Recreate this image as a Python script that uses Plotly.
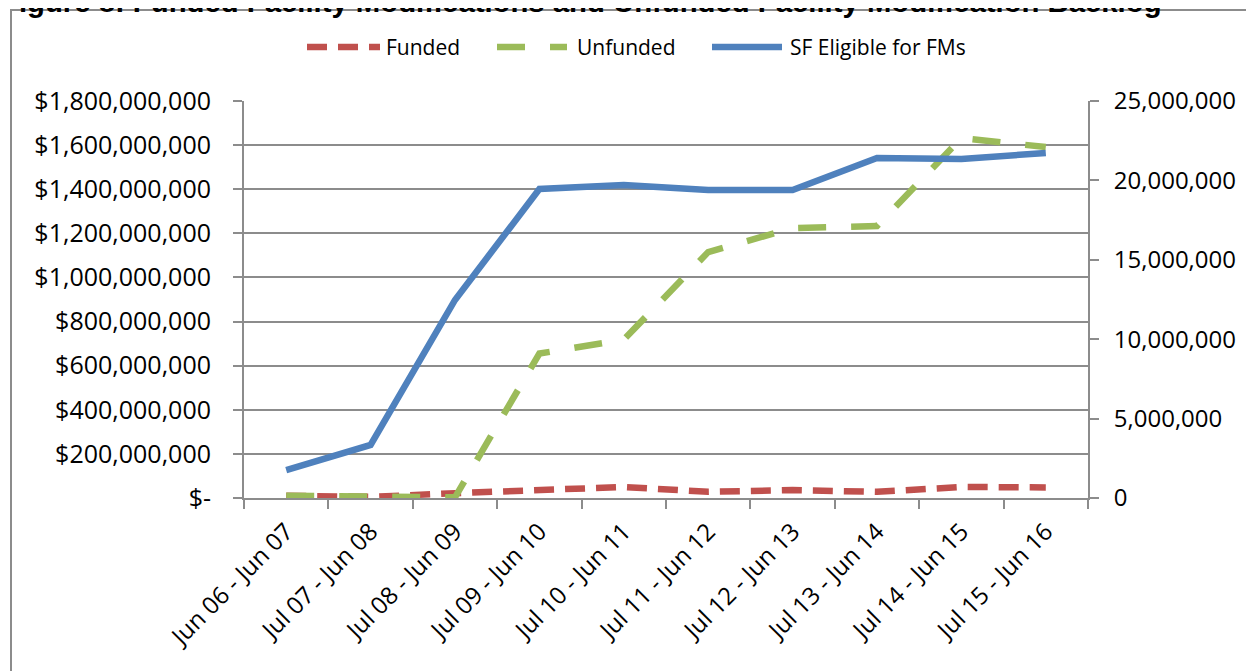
import plotly.graph_objects as go

categories = ["Jun 06 - Jun 07", "Jul 07 - Jun 08", "Jul 08 - Jun 09", "Jul 09 - Jun 10",
              "Jul 10 - Jun 11", "Jul 11 - Jun 12", "Jul 12 - Jun 13", "Jul 13 - Jun 14",
              "Jul 14 - Jun 15", "Jul 15 - Jun 16"]
funded = [10e6, 5e6, 22e6, 33e6, 50e6, 28e6, 36e6, 28e6, 50e6, 48e6]
unfunded = [10e6, 10e6, 3e6, 655e6, 718e6, 1115e6, 1224e6, 1233e6, 1632e6, 1591e6]
sf_eligible = [1.76e6, 3.34e6, 12.47e6, 19.46e6, 19.71e6, 19.40e6, 19.40e6, 21.41e6, 21.35e6, 21.73e6]

left_ticks = [0, 200e6, 400e6, 600e6, 800e6, 1000e6, 1200e6, 1400e6, 1600e6, 1800e6]
left_text = ["$-", "$200,000,000", "$400,000,000", "$600,000,000", "$800,000,000",
             "$1,000,000,000", "$1,200,000,000", "$1,400,000,000", "$1,600,000,000", "$1,800,000,000"]
right_ticks = [0, 5e6, 10e6, 15e6, 20e6, 25e6]
right_text = ["0", "5,000,000", "10,000,000", "15,000,000", "20,000,000", "25,000,000"]

series_names = ["Funded", "Unfunded", "SF Eligible for FMs"]
series_colors = ["#C0504D", "#9BBB59", "#4F81BD"]
series_dash = ["20px,11px", "28px,25px", "solid"]

title_text = "Figure 8: Funded Facility Modifications and Unfunded Facility Modification Backlog"

FONT = "Open Sans"
GRID = "#8c8c8c"

# figure geometry (page is offset by 8px body margin)
W, H = 1246, 663
ML, MT = 236, 93
PW, PH = 844, 397
MR, MB = W - ML - PW, H - MT - PH


def px_x(x):
    return (x - ML) / PW


def px_y(y):
    return (MT + PH - y) / PH


fig = go.Figure()
for name, vals, col, dash, ax in zip(series_names, [funded, unfunded, sf_eligible],
                                     series_colors, series_dash, ["y", "y", "y2"]):
    fig.add_trace(go.Scatter(x=categories, y=vals, name=name, mode="lines",
                             line=dict(color=col, width=6.5, dash=dash), yaxis=ax,
                             showlegend=False))

fig.update_layout(
    width=W, height=H,
    margin=dict(l=ML, r=MR, t=MT, b=MB, autoexpand=False),
    plot_bgcolor="white", paper_bgcolor="white",
    font=dict(family=FONT, color="black"),
    showlegend=False,
    xaxis=dict(type="category", showline=True, linecolor=GRID, linewidth=2,
               ticks="outside", ticklen=9, tickcolor=GRID, tickwidth=2,
               tickson="boundaries", tickangle=-45, showgrid=False,
               tickfont=dict(size=24, family=FONT), ticklabelstandoff=8, range=[-0.5, 9.5]),
    yaxis=dict(range=[0, 1.8e9], tickvals=left_ticks, ticktext=left_text,
               showgrid=True, gridcolor=GRID, gridwidth=2,
               showline=True, linecolor=GRID, linewidth=2,
               ticks="outside", ticklen=9, tickcolor=GRID, tickwidth=2,
               tickfont=dict(size=25, family=FONT), ticklabelstandoff=17, zeroline=False),
    yaxis2=dict(range=[0, 25e6], tickvals=right_ticks, ticktext=right_text,
                overlaying="y", side="right", showgrid=False,
                showline=True, linecolor=GRID, linewidth=2,
                ticks="outside", ticklen=9, tickcolor=GRID, tickwidth=2,
                tickfont=dict(size=24, family=FONT), ticklabelstandoff=10, zeroline=False),
)

# outer chart frame
fig.add_shape(type="rect", xref="paper", yref="paper",
              x0=px_x(3), x1=1.6, y0=-0.6, y1=px_y(2),
              line=dict(color="#8c8c8c", width=2), fillcolor="rgba(0,0,0,0)", layer="below")

# manual legend (long line samples like the original)
legend_line_x = [(299, 372), (489, 559), (704, 774)]
legend_text_x = [376, 567, 780]
legend_y = 39
for name, col, dash, (a, b), tx in zip(series_names, series_colors, series_dash,
                                       legend_line_x, legend_text_x):
    fig.add_shape(type="line", xref="paper", yref="paper",
                  x0=px_x(a), x1=px_x(b), y0=px_y(legend_y), y1=px_y(legend_y),
                  line=dict(color=col, width=6.5, dash=dash))
    fig.add_annotation(text=name, xref="paper", yref="paper", x=px_x(tx), xanchor="left",
                       y=px_y(legend_y), yanchor="middle", showarrow=False,
                       font=dict(family=FONT, size=21, color="black"))

fig.add_annotation(text="<b>" + title_text + "</b>", xref="paper", yref="paper",
                   x=px_x(-9), xanchor="left", y=px_y(12), yanchor="bottom",
                   showarrow=False, font=dict(family="Liberation Sans", size=29.3, color="black"))

fig.write_html("out.html")
